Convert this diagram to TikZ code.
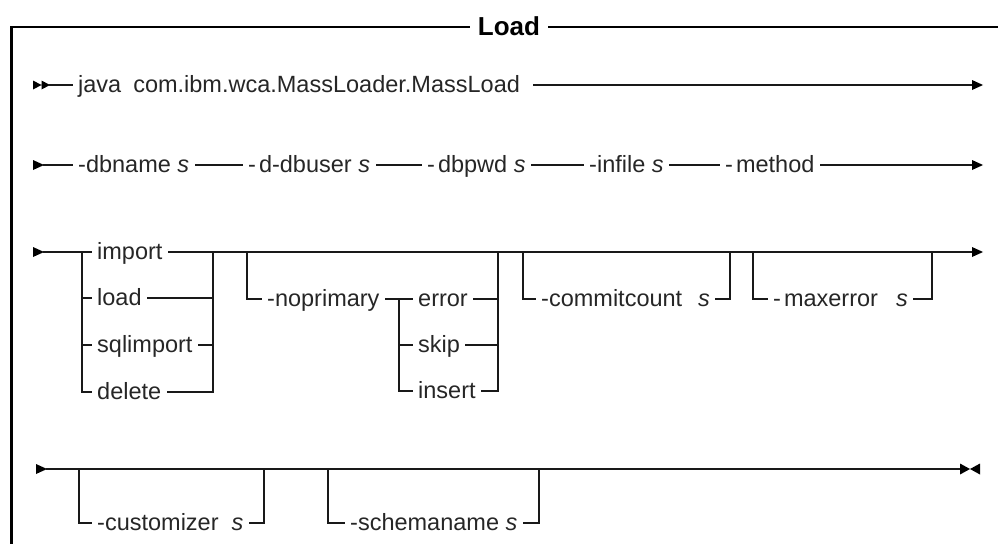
\documentclass[tikz,border=0pt]{standalone}
\usepackage{fontspec}
\setmainfont{Liberation Sans}
\begin{document}
\begin{tikzpicture}[x=1pt,y=-1pt,
  conn/.style={line width=1.5pt, draw=black!90, line cap=rect, line join=miter},
  topline/.style={line width=2pt, draw=black},
  leftline/.style={line width=2.6pt, draw=black},
  lbl/.style={inner xsep=6pt, inner ysep=0pt, text height=20pt, text depth=6pt, anchor=west,
    text=black!85, font=\fontsize{23.5}{28}\selectfont},
  ttlstyle/.style={inner xsep=8pt, inner ysep=0pt, text height=22pt, text depth=6pt,
    text=black, font=\fontsize{26}{30}\selectfont\bfseries},
  rtri/.pic={\fill[black] (0,-5) -- (11,0) -- (0,5) -- cycle;},
  dtri/.pic={\fill[black] (0,-4.5) -- (8.5,0) -- (0,4.5) -- cycle (8.5,-4.5) -- (17,0) -- (8.5,4.5) -- cycle;},
  bowtie/.pic={\fill[black] (0,-5.5) -- (10,0) -- (0,5.5) -- cycle (20,-5.5) -- (10,0) -- (20,5.5) -- cycle;}
]
\useasboundingbox (0,0) rectangle (998,544);

% frame
\node[ttlstyle] (ttl) at (509,27) {Load};
\coordinate (ftl) at (11.3,27);
\coordinate (ftr) at (998,27);
\coordinate (fbl) at (11.3,544);
\draw[topline] (ftl) -- (ttl.west);
\draw[topline] (ttl.east) -- (ftr);
\draw[leftline] ([yshift=1pt]ftl) -- (fbl);

% row 1
\pic at (33,85) {dtri};
\coordinate (r1b) at (50,85);
\coordinate (r1e) at (972,85);
\node[lbl] (java) at (72,85) {java\hspace{12pt}com.ibm.wca.MassLoader.MassLoad};
\draw[conn] (r1b) -- (java);
\draw[conn, shorten <=8pt] (java) -- (r1e);
\pic at (r1e) {rtri};

% row 2
\pic at (33,165) {rtri};
\coordinate (r2b) at (44,165);
\coordinate (r2e) at (972,165);
\node[lbl] (dbname) at (72,165) {-dbname \textit{s}};
\node[lbl] (dbuser) at (242,165) {-\hspace{3pt}d-dbuser \textit{s}};
\node[lbl] (dbpwd) at (421,165) {-\hspace{3pt}dbpwd \textit{s}};
\node[lbl] (infile) at (583,165) {-infile \textit{s}};
\node[lbl] (method) at (719,165) {-\hspace{3pt}method};
\draw[conn] (r2b) -- (dbname);
\draw[conn] (dbname) -- (dbuser);
\draw[conn] (dbuser) -- (dbpwd);
\draw[conn] (dbpwd) -- (infile);
\draw[conn] (infile) -- (method);
\draw[conn] (method) -- (r2e);
\pic at (r2e) {rtri};

% row 3
\pic at (33,252) {rtri};
\coordinate (r3b) at (44,252);
\coordinate (r3e) at (972,252);
\node[lbl] (import) at (91,252) {import};
\node[lbl] (load) at (91,298) {load};
\node[lbl] (sqlimport) at (91,345) {sqlimport};
\node[lbl] (delete) at (91,392) {delete};
\coordinate (s1l) at (82,252);
\coordinate (s1r) at (213,252);
\draw[conn] (r3b) -- (import);
\draw[conn] (import) -- (r3e);
\pic at (r3e) {rtri};
\draw[conn] (s1l) |- (delete);
\draw[conn] (s1l |- load) -- (load);
\draw[conn] (s1l |- sqlimport) -- (sqlimport);
\draw[conn] (load) -- (s1r |- load);
\draw[conn] (sqlimport) -- (s1r |- sqlimport);
\draw[conn] (delete) -| (s1r);

% -noprimary
\coordinate (n1l) at (247,252);
\node[lbl] (noprim) at (261,299) {-noprimary};
\node[lbl] (error) at (412,299) {error};
\node[lbl] (skip) at (412,345) {skip};
\node[lbl] (insert) at (412,391) {insert};
\coordinate (s2l) at (399,299);
\coordinate (s2r) at (498,252);
\draw[conn] (n1l) |- (noprim);
\draw[conn] (noprim) -- (error);
\draw[conn] (s2l) |- (insert);
\draw[conn] (s2l |- skip) -- (skip);
\draw[conn] (error) -- (s2r |- error);
\draw[conn] (skip) -- (s2r |- skip);
\draw[conn] (insert) -| (s2r);

% -commitcount
\coordinate (c1l) at (523,252);
\coordinate (c1r) at (730,252);
\node[lbl] (commit) at (535,299) {-commitcount\hspace{16pt}\textit{s}};
\draw[conn] (c1l) |- (commit);
\draw[conn] (commit) -| (c1r);

% -maxerror
\coordinate (m1l) at (753,252);
\coordinate (m1r) at (932,252);
\node[lbl] (maxerr) at (767,299) {-\hspace{3pt}maxerror\hspace{18pt}\textit{s}};
\draw[conn] (m1l) |- (maxerr);
\draw[conn] (maxerr) -| (m1r);

% row 5
\pic at (36,469) {rtri};
\coordinate (r5b) at (47,469);
\coordinate (r5e) at (960,469);
\draw[conn] (r5b) -- (r5e);
\pic at (r5e) {bowtie};
\coordinate (b1l) at (79,469);
\coordinate (b1r) at (264,469);
\node[lbl] (cust) at (91,523) {-customizer\hspace{13pt}\textit{s}};
\draw[conn] (b1l) |- (cust);
\draw[conn] (cust) -| (b1r);
\coordinate (b2l) at (328,469);
\coordinate (b2r) at (539,469);
\node[lbl] (schema) at (344,523) {-schemaname \textit{s}};
\draw[conn] (b2l) |- (schema);
\draw[conn] (schema) -| (b2r);
\end{tikzpicture}
\end{document}
